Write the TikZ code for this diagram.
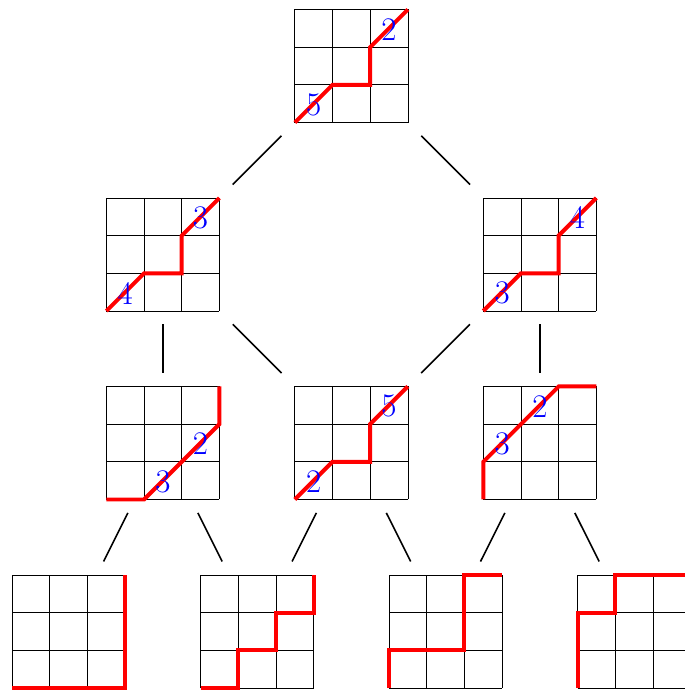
\documentclass[tikz,border=0pt]{standalone}
\usepackage{tikz}

\begin{document}
\begin{tikzpicture}[x=1cm, y=1cm,
    box/.style={rectangle, minimum size=3.71cm, inner sep=0pt, outer sep=0pt},
    cell/.style={black, line width=0.5pt},
    lattice/.style={red, line width=3pt},
    tag/.style={text=blue, font=\Huge, inner sep=0pt},
    edge/.style={black, line width=1.2pt}]
    \useasboundingbox (-0.32,-0.08) rectangle (17.85,18.25);

    % grids
    \foreach \name/\x/\y in {t/7.5/15, l/2.5/10, r/12.5/10, ll/2.5/5, lm/7.5/5, rr/12.5/5, a/0/0, b/5/0, c/10/0, d/15/0} {
        \node[box] (\name) at (\x+1.5,\y+1.5) {};
        \draw[cell, shift={(\x,\y)}] (0,0) grid (3,3);
    }

    % paths
    \draw[lattice] (7.5,15) -- ++(1,1) -- ++(1,0) -- ++(0,1) -- ++(1,1);
    \draw[lattice] (2.5,10) -- ++(1,1) -- ++(1,0) -- ++(0,1) -- ++(1,1);
    \draw[lattice] (12.5,10) -- ++(1,1) -- ++(1,0) -- ++(0,1) -- ++(1,1);
    \draw[lattice] (2.5,5) -- ++(1,0) -- ++(2,2) -- ++(0,1);
    \draw[lattice] (7.5,5) -- ++(1,1) -- ++(1,0) -- ++(0,1) -- ++(1,1);
    \draw[lattice] (12.5,5) -- ++(0,1) -- ++(2,2) -- ++(1,0);
    \draw[lattice] (0,0) -- ++(3,0) -- ++(0,3);
    \draw[lattice] (5,0) -- ++(1,0) -- ++(0,1) -- ++(1,0) -- ++(0,1) -- ++(1,0) -- ++(0,1);
    \draw[lattice] (10,0) -- ++(0,1) -- ++(2,0) -- ++(0,2) -- ++(1,0);
    \draw[lattice] (15,0) -- ++(0,2) -- ++(1,0) -- ++(0,1) -- ++(2,0);

    % labels
    \node[tag] (t1) at (8,15.47) {5};
    \node[tag] (t2) at (10,17.47) {2};
    \node[tag] (l1) at (3,10.47) {4};
    \node[tag] (l2) at (5,12.47) {3};
    \node[tag] (r1) at (13,10.47) {3};
    \node[tag] (r2) at (15,12.47) {4};
    \node[tag] (ll1) at (4,5.47) {3};
    \node[tag] (ll2) at (5,6.47) {2};
    \node[tag] (lm1) at (8,5.47) {2};
    \node[tag] (lm2) at (10,7.47) {5};
    \node[tag] (rr1) at (13,6.47) {3};
    \node[tag] (rr2) at (14,7.47) {2};

    % edges
    \draw[edge] (t) -- (l);
    \draw[edge] (t) -- (r);
    \draw[edge] (l) -- (ll);
    \draw[edge] (l) -- (lm);
    \draw[edge] (r) -- (lm);
    \draw[edge] (r) -- (rr);
    \draw[edge] (ll) -- (a);
    \draw[edge] (ll) -- (b);
    \draw[edge] (lm) -- (b);
    \draw[edge] (lm) -- (c);
    \draw[edge] (rr) -- (c);
    \draw[edge] (rr) -- (d);
\end{tikzpicture}
\end{document}
